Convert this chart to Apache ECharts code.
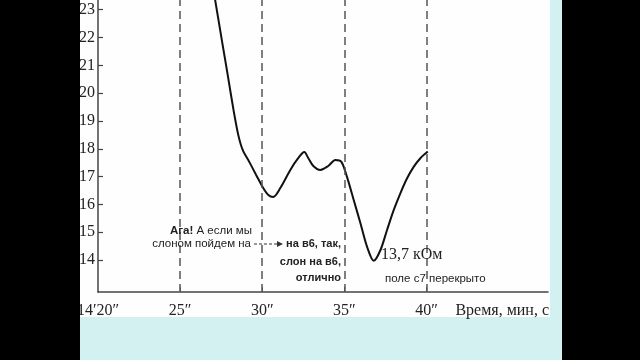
<!DOCTYPE html>
<html>
<head>
<meta charset="utf-8">
<script src="https://cdn.jsdelivr.net/npm/echarts@6/dist/echarts.min.js"></script>
<style>
html,body{margin:0;padding:0;background:#000;}
#chart{width:640px;height:360px;}
</style>
</head>
<body>
<div id="chart"></div>
<script>
// time in seconds after 14'00"
const timeSec = [26.98, 27.54, 27.90, 28.25, 28.54, 28.81, 29.21, 29.63, 30.06, 30.37, 30.67, 31.10, 31.71, 32.20, 32.56, 32.80, 33.11, 33.54, 34.02, 34.45, 34.82, 35.16, 35.57, 35.98, 36.38, 36.79, 37.20, 37.60, 38.01, 38.41, 38.82, 39.23, 39.63, 40.08];
// skin resistance, kOhm
const resistance = [23.89, 21.91, 20.65, 19.40, 18.50, 17.96, 17.53, 17.06, 16.59, 16.34, 16.27, 16.59, 17.24, 17.67, 17.88, 17.67, 17.38, 17.24, 17.38, 17.60, 17.53, 16.99, 16.16, 15.32, 14.48, 13.97, 14.36, 15.08, 15.80, 16.40, 16.94, 17.36, 17.66, 17.90];
const xTickValues = [20, 25, 30, 35, 40];
const xTickLabels = ['14′20″', '25″', '30″', '35″', '40″'];
const yTickValues = [14, 15, 16, 17, 18, 19, 20, 21, 22, 23];
const markerTimes = [25, 30, 35, 40];

const chart = echarts.init(document.getElementById('chart'), null, {renderer: 'canvas'});
const serif = '"Liberation Serif", "DejaVu Serif", serif';
const sans = '"Liberation Sans", Arial, sans-serif';

const data = timeSec.map((t, i) => [t, resistance[i]]);

chart.setOption({
  backgroundColor: '#000',
  animation: false,
  grid: {left: 98, right: 92, top: 0, bottom: 68, outerBoundsMode: 'none'},
  xAxis: {
    type: 'value', min: 20, max: 47.4,
    name: 'Время, мин, с', nameLocation: 'end', nameGap: 1,
    nameTextStyle: {fontFamily: serif, fontSize: 16, color: '#222', align: 'right', verticalAlign: 'top', padding: [11, 0, 0, 0]},
    axisLine: {show: true, lineStyle: {color: '#444', width: 1.5}},
    axisTick: {show: true, inside: true, length: 5, customValues: markerTimes, lineStyle: {color: '#555'}},
    axisLabel: {customValues: xTickValues, margin: 11, fontFamily: serif, fontSize: 16, color: '#222',
      formatter: v => { const i = xTickValues.indexOf(v); return i >= 0 ? xTickLabels[i] : ''; }},
    splitLine: {show: false}
  },
  yAxis: {
    type: 'value', min: 12.85, max: 23.35,
    axisLine: {show: true, lineStyle: {color: '#444', width: 1.5}},
    axisTick: {show: true, inside: true, length: 5, customValues: yTickValues, lineStyle: {color: '#444', width: 1.2}},
    axisLabel: {customValues: yTickValues, margin: 3, fontFamily: serif, fontSize: 16, color: '#222'},
    splitLine: {show: false}
  },
  series: [{
    type: 'line',
    data: data,
    smooth: 0.3,
    symbol: 'none',
    clip: true,
    lineStyle: {color: '#111', width: 2},
    markLine: {
      silent: true,
      symbol: 'none',
      label: {show: false},
      lineStyle: {color: '#555', width: 1.5, type: [8, 5]},
      data: markerTimes.map(t => ({xAxis: t}))
    },
    z: 3
  }],
  graphic: [
    {type: 'rect', shape: {x: 80, y: 0, width: 482, height: 360}, style: {fill: '#d4f1f1'}, silent: true, z: -100},
    {type: 'rect', shape: {x: 80, y: 0, width: 470, height: 317}, style: {fill: '#fefefe'}, silent: true, z: -99},
    {type: 'rect', shape: {x: 0, y: 0, width: 80, height: 360}, style: {fill: '#000'}, silent: true, z: 100},
    {type: 'text', x: 252, y: 231, z: 50, style: {
      text: '{b|Ага!} А если мы', align: 'right', verticalAlign: 'middle',
      font: '11.5px ' + sans, fill: '#222',
      rich: {b: {fontWeight: 'bold', fontSize: 11.5, fontFamily: sans, fill: '#222'}}}},
    {type: 'text', x: 251, y: 244, z: 50, style: {text: 'слоном пойдем на', align: 'right', verticalAlign: 'middle', font: '11.5px ' + sans, fill: '#222'}},
    {type: 'line', z: 50, shape: {x1: 254, y1: 244, x2: 278, y2: 244}, style: {stroke: '#333', lineWidth: 1, lineDash: [3, 2]}},
    {type: 'polygon', z: 50, shape: {points: [[277, 241], [283, 244], [277, 247]]}, style: {fill: '#333'}},
    {type: 'text', x: 341, y: 244, z: 50, style: {text: 'на в6, так,', align: 'right', verticalAlign: 'middle', font: 'bold 11px ' + sans, fill: '#222'}},
    {type: 'text', x: 341, y: 262, z: 50, style: {text: 'слон на в6,', align: 'right', verticalAlign: 'middle', font: 'bold 11px ' + sans, fill: '#222'}},
    {type: 'text', x: 341, y: 278, z: 50, style: {text: 'отлично', align: 'right', verticalAlign: 'middle', font: 'bold 11px ' + sans, fill: '#222'}},
    {type: 'text', x: 381, y: 255, z: 50, style: {text: '13,7 кОм', align: 'left', verticalAlign: 'middle', font: '16px ' + serif, fill: '#222'}},
    {type: 'text', x: 385, y: 279, z: 50, style: {text: 'поле с7 перекрыто', align: 'left', verticalAlign: 'middle', font: '11.5px ' + sans, fill: '#222'}}
  ]
});
</script>
</body>
</html>
